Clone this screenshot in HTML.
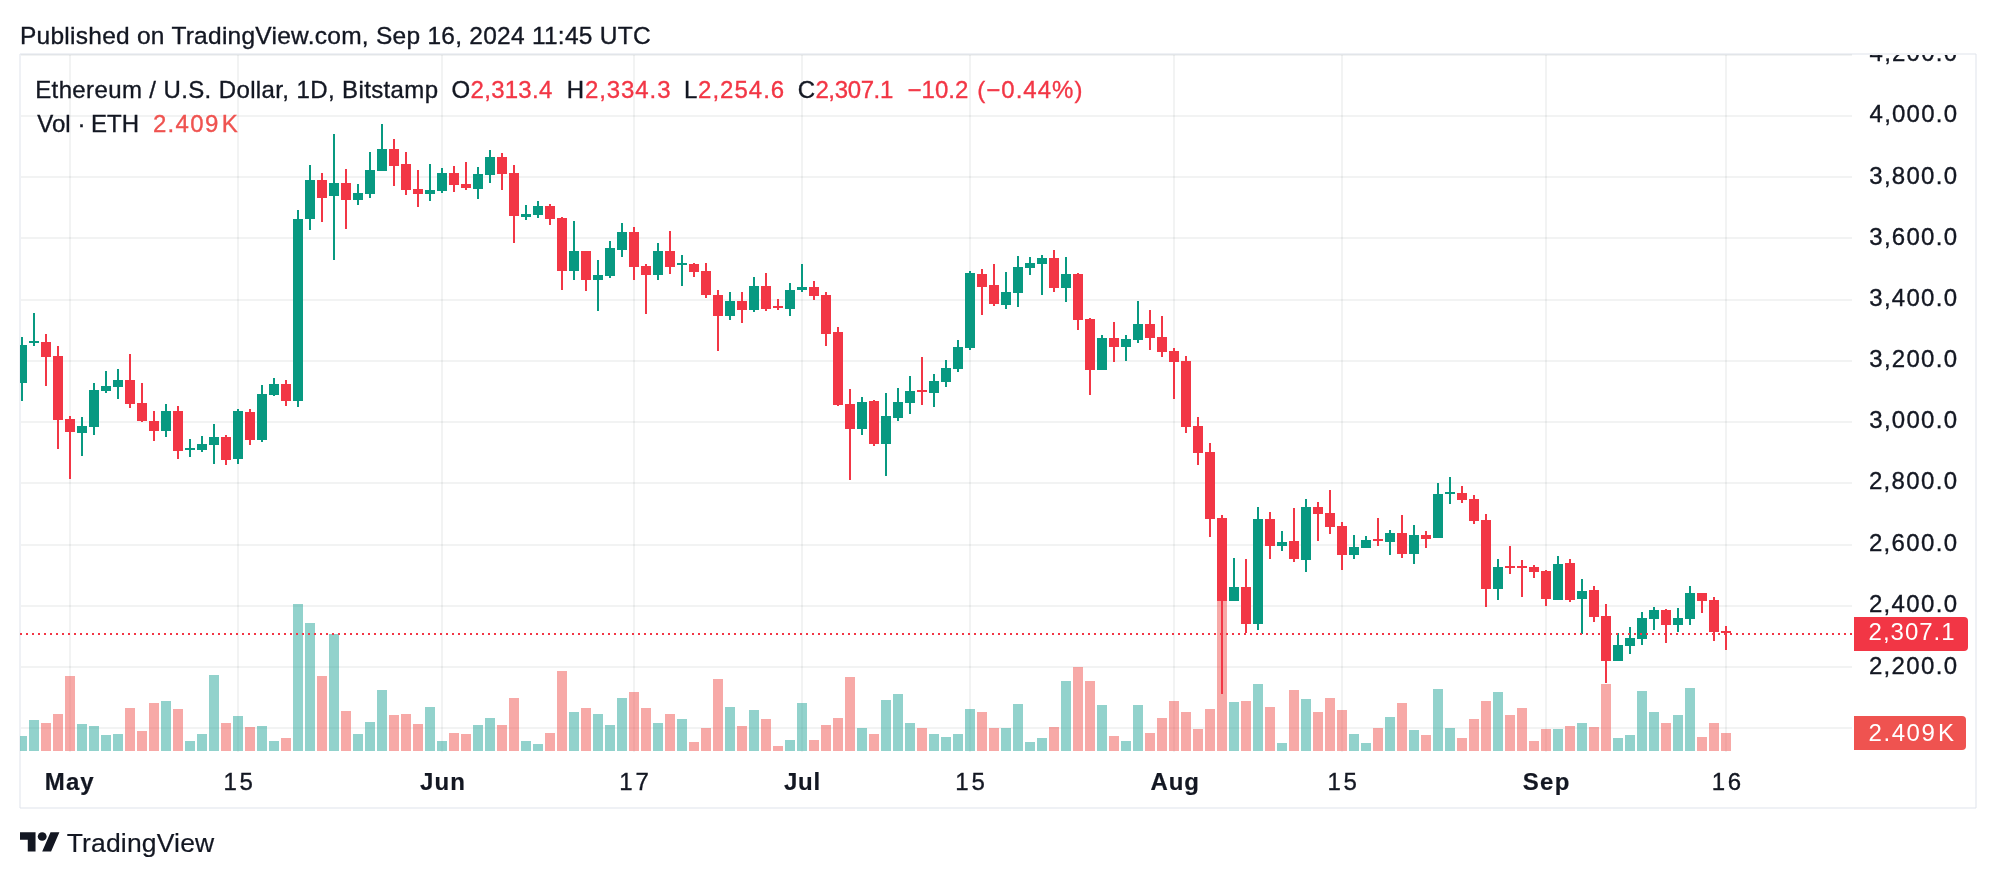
<!DOCTYPE html>
<html><head><meta charset="utf-8"><title>ETHUSD chart</title>
<style>html,body{margin:0;padding:0;background:#fff;}svg{display:block}text{font-family:"Liberation Sans",sans-serif;}</style>
</head><body>
<svg width="1996" height="878" viewBox="0 0 1996 878">
<rect x="0" y="0" width="1996" height="878" fill="#ffffff"/>
<defs><clipPath id="pane"><rect x="20" y="55" width="1832" height="697"/></clipPath><clipPath id="axis"><rect x="1853" y="55" width="122" height="752"/></clipPath></defs>
<g shape-rendering="crispEdges" fill="#e0e3eb" fill-opacity="0.5"><rect x="20" y="53" width="1956" height="2"/><rect x="20" y="807" width="1956" height="2"/><rect x="19" y="54" width="2" height="754"/><rect x="1975" y="54" width="2" height="754"/></g>
<g shape-rendering="crispEdges" fill="rgba(42,46,57,0.06)">
<rect x="69" y="55" width="2" height="697"/>
<rect x="237" y="55" width="2" height="697"/>
<rect x="441" y="55" width="2" height="697"/>
<rect x="633" y="55" width="2" height="697"/>
<rect x="801" y="55" width="2" height="697"/>
<rect x="969" y="55" width="2" height="697"/>
<rect x="1173" y="55" width="2" height="697"/>
<rect x="1341" y="55" width="2" height="697"/>
<rect x="1545" y="55" width="2" height="697"/>
<rect x="1725" y="55" width="2" height="697"/>
<rect x="21" y="54" width="1831" height="2"/>
<rect x="21" y="115" width="1831" height="2"/>
<rect x="21" y="176" width="1831" height="2"/>
<rect x="21" y="237" width="1831" height="2"/>
<rect x="21" y="299" width="1831" height="2"/>
<rect x="21" y="360" width="1831" height="2"/>
<rect x="21" y="421" width="1831" height="2"/>
<rect x="21" y="482" width="1831" height="2"/>
<rect x="21" y="544" width="1831" height="2"/>
<rect x="21" y="605" width="1831" height="2"/>
<rect x="21" y="666" width="1831" height="2"/>
<rect x="21" y="727" width="1831" height="2"/>
</g>
<g shape-rendering="crispEdges" clip-path="url(#pane)" fill-opacity="0.5">
<rect x="17" y="736" width="10" height="15" fill="#26a69a"/>
<rect x="29" y="720" width="10" height="31" fill="#26a69a"/>
<rect x="41" y="723" width="10" height="28" fill="#ef5350"/>
<rect x="53" y="714" width="10" height="37" fill="#ef5350"/>
<rect x="65" y="676" width="10" height="75" fill="#ef5350"/>
<rect x="77" y="724" width="10" height="27" fill="#26a69a"/>
<rect x="89" y="726" width="10" height="25" fill="#26a69a"/>
<rect x="101" y="735" width="10" height="16" fill="#26a69a"/>
<rect x="113" y="734" width="10" height="17" fill="#26a69a"/>
<rect x="125" y="708" width="10" height="43" fill="#ef5350"/>
<rect x="137" y="731" width="10" height="20" fill="#ef5350"/>
<rect x="149" y="703" width="10" height="48" fill="#ef5350"/>
<rect x="161" y="701" width="10" height="50" fill="#26a69a"/>
<rect x="173" y="709" width="10" height="42" fill="#ef5350"/>
<rect x="185" y="741" width="10" height="10" fill="#26a69a"/>
<rect x="197" y="734" width="10" height="17" fill="#26a69a"/>
<rect x="209" y="675" width="10" height="76" fill="#26a69a"/>
<rect x="221" y="723" width="10" height="28" fill="#ef5350"/>
<rect x="233" y="716" width="10" height="35" fill="#26a69a"/>
<rect x="245" y="727" width="10" height="24" fill="#ef5350"/>
<rect x="257" y="726" width="10" height="25" fill="#26a69a"/>
<rect x="269" y="741" width="10" height="10" fill="#26a69a"/>
<rect x="281" y="738" width="10" height="13" fill="#ef5350"/>
<rect x="293" y="604" width="10" height="147" fill="#26a69a"/>
<rect x="305" y="623" width="10" height="128" fill="#26a69a"/>
<rect x="317" y="676" width="10" height="75" fill="#ef5350"/>
<rect x="329" y="634" width="10" height="117" fill="#26a69a"/>
<rect x="341" y="711" width="10" height="40" fill="#ef5350"/>
<rect x="353" y="734" width="10" height="17" fill="#26a69a"/>
<rect x="365" y="722" width="10" height="29" fill="#26a69a"/>
<rect x="377" y="690" width="10" height="61" fill="#26a69a"/>
<rect x="389" y="715" width="10" height="36" fill="#ef5350"/>
<rect x="401" y="714" width="10" height="37" fill="#ef5350"/>
<rect x="413" y="724" width="10" height="27" fill="#ef5350"/>
<rect x="425" y="707" width="10" height="44" fill="#26a69a"/>
<rect x="437" y="741" width="10" height="10" fill="#26a69a"/>
<rect x="449" y="733" width="10" height="18" fill="#ef5350"/>
<rect x="461" y="734" width="10" height="17" fill="#ef5350"/>
<rect x="473" y="725" width="10" height="26" fill="#26a69a"/>
<rect x="485" y="718" width="10" height="33" fill="#26a69a"/>
<rect x="497" y="725" width="10" height="26" fill="#ef5350"/>
<rect x="509" y="698" width="10" height="53" fill="#ef5350"/>
<rect x="521" y="741" width="10" height="10" fill="#26a69a"/>
<rect x="533" y="744" width="10" height="7" fill="#26a69a"/>
<rect x="545" y="733" width="10" height="18" fill="#ef5350"/>
<rect x="557" y="671" width="10" height="80" fill="#ef5350"/>
<rect x="569" y="712" width="10" height="39" fill="#26a69a"/>
<rect x="581" y="708" width="10" height="43" fill="#ef5350"/>
<rect x="593" y="714" width="10" height="37" fill="#26a69a"/>
<rect x="605" y="725" width="10" height="26" fill="#26a69a"/>
<rect x="617" y="698" width="10" height="53" fill="#26a69a"/>
<rect x="629" y="692" width="10" height="59" fill="#ef5350"/>
<rect x="641" y="708" width="10" height="43" fill="#ef5350"/>
<rect x="653" y="723" width="10" height="28" fill="#26a69a"/>
<rect x="665" y="714" width="10" height="37" fill="#ef5350"/>
<rect x="677" y="719" width="10" height="32" fill="#26a69a"/>
<rect x="689" y="742" width="10" height="9" fill="#ef5350"/>
<rect x="701" y="728" width="10" height="23" fill="#ef5350"/>
<rect x="713" y="679" width="10" height="72" fill="#ef5350"/>
<rect x="725" y="707" width="10" height="44" fill="#26a69a"/>
<rect x="737" y="726" width="10" height="25" fill="#ef5350"/>
<rect x="749" y="710" width="10" height="41" fill="#26a69a"/>
<rect x="761" y="719" width="10" height="32" fill="#ef5350"/>
<rect x="773" y="746" width="10" height="5" fill="#ef5350"/>
<rect x="785" y="740" width="10" height="11" fill="#26a69a"/>
<rect x="797" y="703" width="10" height="48" fill="#26a69a"/>
<rect x="809" y="740" width="10" height="11" fill="#ef5350"/>
<rect x="821" y="725" width="10" height="26" fill="#ef5350"/>
<rect x="833" y="718" width="10" height="33" fill="#ef5350"/>
<rect x="845" y="677" width="10" height="74" fill="#ef5350"/>
<rect x="857" y="728" width="10" height="23" fill="#26a69a"/>
<rect x="869" y="734" width="10" height="17" fill="#ef5350"/>
<rect x="881" y="700" width="10" height="51" fill="#26a69a"/>
<rect x="893" y="694" width="10" height="57" fill="#26a69a"/>
<rect x="905" y="723" width="10" height="28" fill="#26a69a"/>
<rect x="917" y="728" width="10" height="23" fill="#ef5350"/>
<rect x="929" y="734" width="10" height="17" fill="#26a69a"/>
<rect x="941" y="737" width="10" height="14" fill="#26a69a"/>
<rect x="953" y="734" width="10" height="17" fill="#26a69a"/>
<rect x="965" y="709" width="10" height="42" fill="#26a69a"/>
<rect x="977" y="712" width="10" height="39" fill="#ef5350"/>
<rect x="989" y="728" width="10" height="23" fill="#ef5350"/>
<rect x="1001" y="728" width="10" height="23" fill="#26a69a"/>
<rect x="1013" y="704" width="10" height="47" fill="#26a69a"/>
<rect x="1025" y="742" width="10" height="9" fill="#26a69a"/>
<rect x="1037" y="738" width="10" height="13" fill="#26a69a"/>
<rect x="1049" y="727" width="10" height="24" fill="#ef5350"/>
<rect x="1061" y="681" width="10" height="70" fill="#26a69a"/>
<rect x="1073" y="667" width="10" height="84" fill="#ef5350"/>
<rect x="1085" y="681" width="10" height="70" fill="#ef5350"/>
<rect x="1097" y="705" width="10" height="46" fill="#26a69a"/>
<rect x="1109" y="736" width="10" height="15" fill="#ef5350"/>
<rect x="1121" y="741" width="10" height="10" fill="#26a69a"/>
<rect x="1133" y="705" width="10" height="46" fill="#26a69a"/>
<rect x="1145" y="733" width="10" height="18" fill="#ef5350"/>
<rect x="1157" y="718" width="10" height="33" fill="#ef5350"/>
<rect x="1169" y="701" width="10" height="50" fill="#ef5350"/>
<rect x="1181" y="712" width="10" height="39" fill="#ef5350"/>
<rect x="1193" y="729" width="10" height="22" fill="#ef5350"/>
<rect x="1205" y="709" width="10" height="42" fill="#ef5350"/>
<rect x="1217" y="601" width="10" height="150" fill="#ef5350"/>
<rect x="1229" y="702" width="10" height="49" fill="#26a69a"/>
<rect x="1241" y="701" width="10" height="50" fill="#ef5350"/>
<rect x="1253" y="684" width="10" height="67" fill="#26a69a"/>
<rect x="1265" y="707" width="10" height="44" fill="#ef5350"/>
<rect x="1277" y="743" width="10" height="8" fill="#26a69a"/>
<rect x="1289" y="690" width="10" height="61" fill="#ef5350"/>
<rect x="1301" y="699" width="10" height="52" fill="#26a69a"/>
<rect x="1313" y="712" width="10" height="39" fill="#ef5350"/>
<rect x="1325" y="698" width="10" height="53" fill="#ef5350"/>
<rect x="1337" y="710" width="10" height="41" fill="#ef5350"/>
<rect x="1349" y="734" width="10" height="17" fill="#26a69a"/>
<rect x="1361" y="743" width="10" height="8" fill="#26a69a"/>
<rect x="1373" y="728" width="10" height="23" fill="#ef5350"/>
<rect x="1385" y="717" width="10" height="34" fill="#26a69a"/>
<rect x="1397" y="703" width="10" height="48" fill="#ef5350"/>
<rect x="1409" y="730" width="10" height="21" fill="#26a69a"/>
<rect x="1421" y="735" width="10" height="16" fill="#ef5350"/>
<rect x="1433" y="689" width="10" height="62" fill="#26a69a"/>
<rect x="1445" y="728" width="10" height="23" fill="#26a69a"/>
<rect x="1457" y="738" width="10" height="13" fill="#ef5350"/>
<rect x="1469" y="719" width="10" height="32" fill="#ef5350"/>
<rect x="1481" y="701" width="10" height="50" fill="#ef5350"/>
<rect x="1493" y="692" width="10" height="59" fill="#26a69a"/>
<rect x="1505" y="715" width="10" height="36" fill="#ef5350"/>
<rect x="1517" y="708" width="10" height="43" fill="#ef5350"/>
<rect x="1529" y="741" width="10" height="10" fill="#ef5350"/>
<rect x="1541" y="729" width="10" height="22" fill="#ef5350"/>
<rect x="1553" y="729" width="10" height="22" fill="#26a69a"/>
<rect x="1565" y="726" width="10" height="25" fill="#ef5350"/>
<rect x="1577" y="723" width="10" height="28" fill="#26a69a"/>
<rect x="1589" y="727" width="10" height="24" fill="#ef5350"/>
<rect x="1601" y="684" width="10" height="67" fill="#ef5350"/>
<rect x="1613" y="738" width="10" height="13" fill="#26a69a"/>
<rect x="1625" y="735" width="10" height="16" fill="#26a69a"/>
<rect x="1637" y="691" width="10" height="60" fill="#26a69a"/>
<rect x="1649" y="712" width="10" height="39" fill="#26a69a"/>
<rect x="1661" y="723" width="10" height="28" fill="#ef5350"/>
<rect x="1673" y="715" width="10" height="36" fill="#26a69a"/>
<rect x="1685" y="688" width="10" height="63" fill="#26a69a"/>
<rect x="1697" y="737" width="10" height="14" fill="#ef5350"/>
<rect x="1709" y="723" width="10" height="28" fill="#ef5350"/>
<rect x="1721" y="733" width="10" height="18" fill="#ef5350"/>
</g>
<g shape-rendering="crispEdges" clip-path="url(#pane)">
<rect x="21" y="337" width="2" height="64" fill="#089981"/>
<rect x="17" y="345" width="10" height="38" fill="#089981"/>
<rect x="33" y="313" width="2" height="33" fill="#089981"/>
<rect x="29" y="341" width="10" height="2" fill="#089981"/>
<rect x="45" y="334" width="2" height="52" fill="#F23645"/>
<rect x="41" y="342" width="10" height="15" fill="#F23645"/>
<rect x="57" y="346" width="2" height="103" fill="#F23645"/>
<rect x="53" y="356" width="10" height="64" fill="#F23645"/>
<rect x="69" y="416" width="2" height="63" fill="#F23645"/>
<rect x="65" y="419" width="10" height="13" fill="#F23645"/>
<rect x="81" y="417" width="2" height="39" fill="#089981"/>
<rect x="77" y="426" width="10" height="7" fill="#089981"/>
<rect x="93" y="383" width="2" height="52" fill="#089981"/>
<rect x="89" y="390" width="10" height="37" fill="#089981"/>
<rect x="105" y="371" width="2" height="22" fill="#089981"/>
<rect x="101" y="386" width="10" height="5" fill="#089981"/>
<rect x="117" y="369" width="2" height="30" fill="#089981"/>
<rect x="113" y="380" width="10" height="7" fill="#089981"/>
<rect x="129" y="354" width="2" height="54" fill="#F23645"/>
<rect x="125" y="380" width="10" height="24" fill="#F23645"/>
<rect x="141" y="383" width="2" height="39" fill="#F23645"/>
<rect x="137" y="403" width="10" height="18" fill="#F23645"/>
<rect x="153" y="411" width="2" height="30" fill="#F23645"/>
<rect x="149" y="421" width="10" height="10" fill="#F23645"/>
<rect x="165" y="404" width="2" height="33" fill="#089981"/>
<rect x="161" y="411" width="10" height="20" fill="#089981"/>
<rect x="177" y="406" width="2" height="53" fill="#F23645"/>
<rect x="173" y="411" width="10" height="40" fill="#F23645"/>
<rect x="189" y="439" width="2" height="18" fill="#089981"/>
<rect x="185" y="448" width="10" height="2" fill="#089981"/>
<rect x="201" y="436" width="2" height="16" fill="#089981"/>
<rect x="197" y="444" width="10" height="6" fill="#089981"/>
<rect x="213" y="424" width="2" height="40" fill="#089981"/>
<rect x="209" y="437" width="10" height="8" fill="#089981"/>
<rect x="225" y="435" width="2" height="30" fill="#F23645"/>
<rect x="221" y="437" width="10" height="23" fill="#F23645"/>
<rect x="237" y="409" width="2" height="55" fill="#089981"/>
<rect x="233" y="411" width="10" height="48" fill="#089981"/>
<rect x="249" y="409" width="2" height="36" fill="#F23645"/>
<rect x="245" y="412" width="10" height="28" fill="#F23645"/>
<rect x="261" y="385" width="2" height="57" fill="#089981"/>
<rect x="257" y="394" width="10" height="46" fill="#089981"/>
<rect x="273" y="378" width="2" height="18" fill="#089981"/>
<rect x="269" y="384" width="10" height="11" fill="#089981"/>
<rect x="285" y="380" width="2" height="26" fill="#F23645"/>
<rect x="281" y="384" width="10" height="17" fill="#F23645"/>
<rect x="297" y="210" width="2" height="197" fill="#089981"/>
<rect x="293" y="219" width="10" height="182" fill="#089981"/>
<rect x="309" y="165" width="2" height="65" fill="#089981"/>
<rect x="305" y="180" width="10" height="39" fill="#089981"/>
<rect x="321" y="173" width="2" height="49" fill="#F23645"/>
<rect x="317" y="180" width="10" height="18" fill="#F23645"/>
<rect x="333" y="134" width="2" height="126" fill="#089981"/>
<rect x="329" y="183" width="10" height="13" fill="#089981"/>
<rect x="345" y="169" width="2" height="60" fill="#F23645"/>
<rect x="341" y="183" width="10" height="17" fill="#F23645"/>
<rect x="357" y="184" width="2" height="21" fill="#089981"/>
<rect x="353" y="193" width="10" height="7" fill="#089981"/>
<rect x="369" y="152" width="2" height="46" fill="#089981"/>
<rect x="365" y="170" width="10" height="24" fill="#089981"/>
<rect x="381" y="124" width="2" height="47" fill="#089981"/>
<rect x="377" y="149" width="10" height="22" fill="#089981"/>
<rect x="393" y="139" width="2" height="47" fill="#F23645"/>
<rect x="389" y="149" width="10" height="17" fill="#F23645"/>
<rect x="405" y="152" width="2" height="43" fill="#F23645"/>
<rect x="401" y="164" width="10" height="26" fill="#F23645"/>
<rect x="417" y="170" width="2" height="37" fill="#F23645"/>
<rect x="413" y="189" width="10" height="5" fill="#F23645"/>
<rect x="429" y="164" width="2" height="37" fill="#089981"/>
<rect x="425" y="190" width="10" height="4" fill="#089981"/>
<rect x="441" y="168" width="2" height="25" fill="#089981"/>
<rect x="437" y="173" width="10" height="18" fill="#089981"/>
<rect x="453" y="166" width="2" height="26" fill="#F23645"/>
<rect x="449" y="173" width="10" height="12" fill="#F23645"/>
<rect x="465" y="162" width="2" height="28" fill="#F23645"/>
<rect x="461" y="184" width="10" height="4" fill="#F23645"/>
<rect x="477" y="167" width="2" height="32" fill="#089981"/>
<rect x="473" y="174" width="10" height="15" fill="#089981"/>
<rect x="489" y="150" width="2" height="33" fill="#089981"/>
<rect x="485" y="157" width="10" height="18" fill="#089981"/>
<rect x="501" y="153" width="2" height="37" fill="#F23645"/>
<rect x="497" y="157" width="10" height="17" fill="#F23645"/>
<rect x="513" y="165" width="2" height="78" fill="#F23645"/>
<rect x="509" y="173" width="10" height="43" fill="#F23645"/>
<rect x="525" y="205" width="2" height="15" fill="#089981"/>
<rect x="521" y="214" width="10" height="3" fill="#089981"/>
<rect x="537" y="201" width="2" height="17" fill="#089981"/>
<rect x="533" y="206" width="10" height="9" fill="#089981"/>
<rect x="549" y="204" width="2" height="21" fill="#F23645"/>
<rect x="545" y="206" width="10" height="13" fill="#F23645"/>
<rect x="561" y="217" width="2" height="73" fill="#F23645"/>
<rect x="557" y="218" width="10" height="53" fill="#F23645"/>
<rect x="573" y="221" width="2" height="59" fill="#089981"/>
<rect x="569" y="251" width="10" height="20" fill="#089981"/>
<rect x="585" y="251" width="2" height="40" fill="#F23645"/>
<rect x="581" y="251" width="10" height="29" fill="#F23645"/>
<rect x="597" y="260" width="2" height="51" fill="#089981"/>
<rect x="593" y="275" width="10" height="5" fill="#089981"/>
<rect x="609" y="241" width="2" height="37" fill="#089981"/>
<rect x="605" y="248" width="10" height="28" fill="#089981"/>
<rect x="621" y="223" width="2" height="34" fill="#089981"/>
<rect x="617" y="232" width="10" height="18" fill="#089981"/>
<rect x="633" y="227" width="2" height="53" fill="#F23645"/>
<rect x="629" y="232" width="10" height="35" fill="#F23645"/>
<rect x="645" y="264" width="2" height="50" fill="#F23645"/>
<rect x="641" y="266" width="10" height="9" fill="#F23645"/>
<rect x="657" y="243" width="2" height="37" fill="#089981"/>
<rect x="653" y="251" width="10" height="24" fill="#089981"/>
<rect x="669" y="231" width="2" height="43" fill="#F23645"/>
<rect x="665" y="251" width="10" height="16" fill="#F23645"/>
<rect x="681" y="255" width="2" height="31" fill="#089981"/>
<rect x="677" y="263" width="10" height="2" fill="#089981"/>
<rect x="693" y="263" width="2" height="14" fill="#F23645"/>
<rect x="689" y="264" width="10" height="8" fill="#F23645"/>
<rect x="705" y="263" width="2" height="35" fill="#F23645"/>
<rect x="701" y="271" width="10" height="24" fill="#F23645"/>
<rect x="717" y="290" width="2" height="61" fill="#F23645"/>
<rect x="713" y="295" width="10" height="21" fill="#F23645"/>
<rect x="729" y="292" width="2" height="28" fill="#089981"/>
<rect x="725" y="301" width="10" height="15" fill="#089981"/>
<rect x="741" y="292" width="2" height="31" fill="#F23645"/>
<rect x="737" y="301" width="10" height="9" fill="#F23645"/>
<rect x="753" y="277" width="2" height="35" fill="#089981"/>
<rect x="749" y="286" width="10" height="24" fill="#089981"/>
<rect x="765" y="273" width="2" height="38" fill="#F23645"/>
<rect x="761" y="286" width="10" height="23" fill="#F23645"/>
<rect x="777" y="299" width="2" height="11" fill="#F23645"/>
<rect x="773" y="306" width="10" height="2" fill="#F23645"/>
<rect x="789" y="283" width="2" height="33" fill="#089981"/>
<rect x="785" y="290" width="10" height="19" fill="#089981"/>
<rect x="801" y="264" width="2" height="28" fill="#089981"/>
<rect x="797" y="287" width="10" height="3" fill="#089981"/>
<rect x="813" y="281" width="2" height="19" fill="#F23645"/>
<rect x="809" y="287" width="10" height="9" fill="#F23645"/>
<rect x="825" y="292" width="2" height="54" fill="#F23645"/>
<rect x="821" y="295" width="10" height="39" fill="#F23645"/>
<rect x="837" y="327" width="2" height="79" fill="#F23645"/>
<rect x="833" y="332" width="10" height="73" fill="#F23645"/>
<rect x="849" y="389" width="2" height="91" fill="#F23645"/>
<rect x="845" y="404" width="10" height="25" fill="#F23645"/>
<rect x="861" y="397" width="2" height="38" fill="#089981"/>
<rect x="857" y="402" width="10" height="27" fill="#089981"/>
<rect x="873" y="400" width="2" height="46" fill="#F23645"/>
<rect x="869" y="401" width="10" height="43" fill="#F23645"/>
<rect x="885" y="393" width="2" height="83" fill="#089981"/>
<rect x="881" y="416" width="10" height="28" fill="#089981"/>
<rect x="897" y="388" width="2" height="33" fill="#089981"/>
<rect x="893" y="402" width="10" height="16" fill="#089981"/>
<rect x="909" y="376" width="2" height="38" fill="#089981"/>
<rect x="905" y="391" width="10" height="12" fill="#089981"/>
<rect x="921" y="357" width="2" height="48" fill="#F23645"/>
<rect x="917" y="390" width="10" height="2" fill="#F23645"/>
<rect x="933" y="374" width="2" height="33" fill="#089981"/>
<rect x="929" y="381" width="10" height="12" fill="#089981"/>
<rect x="945" y="360" width="2" height="27" fill="#089981"/>
<rect x="941" y="368" width="10" height="14" fill="#089981"/>
<rect x="957" y="340" width="2" height="32" fill="#089981"/>
<rect x="953" y="347" width="10" height="22" fill="#089981"/>
<rect x="969" y="271" width="2" height="79" fill="#089981"/>
<rect x="965" y="273" width="10" height="75" fill="#089981"/>
<rect x="981" y="269" width="2" height="46" fill="#F23645"/>
<rect x="977" y="274" width="10" height="13" fill="#F23645"/>
<rect x="993" y="264" width="2" height="42" fill="#F23645"/>
<rect x="989" y="285" width="10" height="19" fill="#F23645"/>
<rect x="1005" y="272" width="2" height="37" fill="#089981"/>
<rect x="1001" y="292" width="10" height="13" fill="#089981"/>
<rect x="1017" y="256" width="2" height="51" fill="#089981"/>
<rect x="1013" y="267" width="10" height="26" fill="#089981"/>
<rect x="1029" y="257" width="2" height="18" fill="#089981"/>
<rect x="1025" y="263" width="10" height="5" fill="#089981"/>
<rect x="1041" y="255" width="2" height="40" fill="#089981"/>
<rect x="1037" y="258" width="10" height="6" fill="#089981"/>
<rect x="1053" y="250" width="2" height="42" fill="#F23645"/>
<rect x="1049" y="258" width="10" height="30" fill="#F23645"/>
<rect x="1065" y="257" width="2" height="45" fill="#089981"/>
<rect x="1061" y="274" width="10" height="14" fill="#089981"/>
<rect x="1077" y="273" width="2" height="57" fill="#F23645"/>
<rect x="1073" y="274" width="10" height="46" fill="#F23645"/>
<rect x="1089" y="318" width="2" height="77" fill="#F23645"/>
<rect x="1085" y="319" width="10" height="51" fill="#F23645"/>
<rect x="1101" y="335" width="2" height="35" fill="#089981"/>
<rect x="1097" y="338" width="10" height="32" fill="#089981"/>
<rect x="1113" y="322" width="2" height="40" fill="#F23645"/>
<rect x="1109" y="338" width="10" height="9" fill="#F23645"/>
<rect x="1125" y="335" width="2" height="26" fill="#089981"/>
<rect x="1121" y="339" width="10" height="8" fill="#089981"/>
<rect x="1137" y="301" width="2" height="42" fill="#089981"/>
<rect x="1133" y="324" width="10" height="16" fill="#089981"/>
<rect x="1149" y="310" width="2" height="40" fill="#F23645"/>
<rect x="1145" y="324" width="10" height="14" fill="#F23645"/>
<rect x="1161" y="316" width="2" height="41" fill="#F23645"/>
<rect x="1157" y="337" width="10" height="15" fill="#F23645"/>
<rect x="1173" y="348" width="2" height="51" fill="#F23645"/>
<rect x="1169" y="351" width="10" height="11" fill="#F23645"/>
<rect x="1185" y="356" width="2" height="77" fill="#F23645"/>
<rect x="1181" y="361" width="10" height="66" fill="#F23645"/>
<rect x="1197" y="417" width="2" height="48" fill="#F23645"/>
<rect x="1193" y="426" width="10" height="27" fill="#F23645"/>
<rect x="1209" y="443" width="2" height="94" fill="#F23645"/>
<rect x="1205" y="452" width="10" height="67" fill="#F23645"/>
<rect x="1221" y="515" width="2" height="179" fill="#F23645"/>
<rect x="1217" y="518" width="10" height="83" fill="#F23645"/>
<rect x="1233" y="558" width="2" height="43" fill="#089981"/>
<rect x="1229" y="587" width="10" height="14" fill="#089981"/>
<rect x="1245" y="559" width="2" height="74" fill="#F23645"/>
<rect x="1241" y="587" width="10" height="37" fill="#F23645"/>
<rect x="1257" y="507" width="2" height="123" fill="#089981"/>
<rect x="1253" y="519" width="10" height="105" fill="#089981"/>
<rect x="1269" y="512" width="2" height="47" fill="#F23645"/>
<rect x="1265" y="519" width="10" height="27" fill="#F23645"/>
<rect x="1281" y="531" width="2" height="20" fill="#089981"/>
<rect x="1277" y="542" width="10" height="4" fill="#089981"/>
<rect x="1293" y="508" width="2" height="54" fill="#F23645"/>
<rect x="1289" y="541" width="10" height="18" fill="#F23645"/>
<rect x="1305" y="499" width="2" height="73" fill="#089981"/>
<rect x="1301" y="507" width="10" height="53" fill="#089981"/>
<rect x="1317" y="502" width="2" height="39" fill="#F23645"/>
<rect x="1313" y="507" width="10" height="7" fill="#F23645"/>
<rect x="1329" y="490" width="2" height="44" fill="#F23645"/>
<rect x="1325" y="513" width="10" height="14" fill="#F23645"/>
<rect x="1341" y="522" width="2" height="48" fill="#F23645"/>
<rect x="1337" y="526" width="10" height="29" fill="#F23645"/>
<rect x="1353" y="535" width="2" height="24" fill="#089981"/>
<rect x="1349" y="547" width="10" height="8" fill="#089981"/>
<rect x="1365" y="536" width="2" height="12" fill="#089981"/>
<rect x="1361" y="540" width="10" height="8" fill="#089981"/>
<rect x="1377" y="518" width="2" height="28" fill="#F23645"/>
<rect x="1373" y="539" width="10" height="2" fill="#F23645"/>
<rect x="1389" y="530" width="2" height="25" fill="#089981"/>
<rect x="1385" y="533" width="10" height="9" fill="#089981"/>
<rect x="1401" y="515" width="2" height="43" fill="#F23645"/>
<rect x="1397" y="533" width="10" height="21" fill="#F23645"/>
<rect x="1413" y="525" width="2" height="39" fill="#089981"/>
<rect x="1409" y="535" width="10" height="19" fill="#089981"/>
<rect x="1425" y="531" width="2" height="17" fill="#F23645"/>
<rect x="1421" y="535" width="10" height="4" fill="#F23645"/>
<rect x="1437" y="483" width="2" height="55" fill="#089981"/>
<rect x="1433" y="494" width="10" height="44" fill="#089981"/>
<rect x="1449" y="477" width="2" height="27" fill="#089981"/>
<rect x="1445" y="492" width="10" height="2" fill="#089981"/>
<rect x="1461" y="486" width="2" height="17" fill="#F23645"/>
<rect x="1457" y="493" width="10" height="7" fill="#F23645"/>
<rect x="1473" y="495" width="2" height="29" fill="#F23645"/>
<rect x="1469" y="499" width="10" height="22" fill="#F23645"/>
<rect x="1485" y="514" width="2" height="93" fill="#F23645"/>
<rect x="1481" y="520" width="10" height="69" fill="#F23645"/>
<rect x="1497" y="559" width="2" height="41" fill="#089981"/>
<rect x="1493" y="567" width="10" height="22" fill="#089981"/>
<rect x="1509" y="546" width="2" height="28" fill="#F23645"/>
<rect x="1505" y="566" width="10" height="2" fill="#F23645"/>
<rect x="1521" y="560" width="2" height="37" fill="#F23645"/>
<rect x="1517" y="566" width="10" height="2" fill="#F23645"/>
<rect x="1533" y="565" width="2" height="13" fill="#F23645"/>
<rect x="1529" y="567" width="10" height="5" fill="#F23645"/>
<rect x="1545" y="570" width="2" height="36" fill="#F23645"/>
<rect x="1541" y="571" width="10" height="28" fill="#F23645"/>
<rect x="1557" y="556" width="2" height="44" fill="#089981"/>
<rect x="1553" y="564" width="10" height="36" fill="#089981"/>
<rect x="1569" y="559" width="2" height="43" fill="#F23645"/>
<rect x="1565" y="563" width="10" height="37" fill="#F23645"/>
<rect x="1581" y="579" width="2" height="55" fill="#089981"/>
<rect x="1577" y="591" width="10" height="8" fill="#089981"/>
<rect x="1593" y="586" width="2" height="36" fill="#F23645"/>
<rect x="1589" y="590" width="10" height="27" fill="#F23645"/>
<rect x="1605" y="604" width="2" height="79" fill="#F23645"/>
<rect x="1601" y="616" width="10" height="45" fill="#F23645"/>
<rect x="1617" y="633" width="2" height="28" fill="#089981"/>
<rect x="1613" y="645" width="10" height="16" fill="#089981"/>
<rect x="1629" y="627" width="2" height="27" fill="#089981"/>
<rect x="1625" y="638" width="10" height="8" fill="#089981"/>
<rect x="1641" y="612" width="2" height="33" fill="#089981"/>
<rect x="1637" y="618" width="10" height="21" fill="#089981"/>
<rect x="1653" y="607" width="2" height="23" fill="#089981"/>
<rect x="1649" y="610" width="10" height="9" fill="#089981"/>
<rect x="1665" y="609" width="2" height="34" fill="#F23645"/>
<rect x="1661" y="610" width="10" height="15" fill="#F23645"/>
<rect x="1677" y="608" width="2" height="24" fill="#089981"/>
<rect x="1673" y="618" width="10" height="7" fill="#089981"/>
<rect x="1689" y="586" width="2" height="39" fill="#089981"/>
<rect x="1685" y="593" width="10" height="26" fill="#089981"/>
<rect x="1701" y="593" width="2" height="20" fill="#F23645"/>
<rect x="1697" y="593" width="10" height="8" fill="#F23645"/>
<rect x="1713" y="597" width="2" height="44" fill="#F23645"/>
<rect x="1709" y="600" width="10" height="32" fill="#F23645"/>
<rect x="1725" y="626" width="2" height="24" fill="#F23645"/>
<rect x="1721" y="631" width="10" height="2" fill="#F23645"/>
</g>
<path shape-rendering="crispEdges" fill="#F23645" d="M20 633h2v2h-2zM26 633h2v2h-2zM32 633h2v2h-2zM38 633h2v2h-2zM44 633h2v2h-2zM50 633h2v2h-2zM56 633h2v2h-2zM62 633h2v2h-2zM68 633h2v2h-2zM74 633h2v2h-2zM80 633h2v2h-2zM86 633h2v2h-2zM92 633h2v2h-2zM98 633h2v2h-2zM104 633h2v2h-2zM110 633h2v2h-2zM116 633h2v2h-2zM122 633h2v2h-2zM128 633h2v2h-2zM134 633h2v2h-2zM140 633h2v2h-2zM146 633h2v2h-2zM152 633h2v2h-2zM158 633h2v2h-2zM164 633h2v2h-2zM170 633h2v2h-2zM176 633h2v2h-2zM182 633h2v2h-2zM188 633h2v2h-2zM194 633h2v2h-2zM200 633h2v2h-2zM206 633h2v2h-2zM212 633h2v2h-2zM218 633h2v2h-2zM224 633h2v2h-2zM230 633h2v2h-2zM236 633h2v2h-2zM242 633h2v2h-2zM248 633h2v2h-2zM254 633h2v2h-2zM260 633h2v2h-2zM266 633h2v2h-2zM272 633h2v2h-2zM278 633h2v2h-2zM284 633h2v2h-2zM290 633h2v2h-2zM296 633h2v2h-2zM302 633h2v2h-2zM308 633h2v2h-2zM314 633h2v2h-2zM320 633h2v2h-2zM326 633h2v2h-2zM332 633h2v2h-2zM338 633h2v2h-2zM344 633h2v2h-2zM350 633h2v2h-2zM356 633h2v2h-2zM362 633h2v2h-2zM368 633h2v2h-2zM374 633h2v2h-2zM380 633h2v2h-2zM386 633h2v2h-2zM392 633h2v2h-2zM398 633h2v2h-2zM404 633h2v2h-2zM410 633h2v2h-2zM416 633h2v2h-2zM422 633h2v2h-2zM428 633h2v2h-2zM434 633h2v2h-2zM440 633h2v2h-2zM446 633h2v2h-2zM452 633h2v2h-2zM458 633h2v2h-2zM464 633h2v2h-2zM470 633h2v2h-2zM476 633h2v2h-2zM482 633h2v2h-2zM488 633h2v2h-2zM494 633h2v2h-2zM500 633h2v2h-2zM506 633h2v2h-2zM512 633h2v2h-2zM518 633h2v2h-2zM524 633h2v2h-2zM530 633h2v2h-2zM536 633h2v2h-2zM542 633h2v2h-2zM548 633h2v2h-2zM554 633h2v2h-2zM560 633h2v2h-2zM566 633h2v2h-2zM572 633h2v2h-2zM578 633h2v2h-2zM584 633h2v2h-2zM590 633h2v2h-2zM596 633h2v2h-2zM602 633h2v2h-2zM608 633h2v2h-2zM614 633h2v2h-2zM620 633h2v2h-2zM626 633h2v2h-2zM632 633h2v2h-2zM638 633h2v2h-2zM644 633h2v2h-2zM650 633h2v2h-2zM656 633h2v2h-2zM662 633h2v2h-2zM668 633h2v2h-2zM674 633h2v2h-2zM680 633h2v2h-2zM686 633h2v2h-2zM692 633h2v2h-2zM698 633h2v2h-2zM704 633h2v2h-2zM710 633h2v2h-2zM716 633h2v2h-2zM722 633h2v2h-2zM728 633h2v2h-2zM734 633h2v2h-2zM740 633h2v2h-2zM746 633h2v2h-2zM752 633h2v2h-2zM758 633h2v2h-2zM764 633h2v2h-2zM770 633h2v2h-2zM776 633h2v2h-2zM782 633h2v2h-2zM788 633h2v2h-2zM794 633h2v2h-2zM800 633h2v2h-2zM806 633h2v2h-2zM812 633h2v2h-2zM818 633h2v2h-2zM824 633h2v2h-2zM830 633h2v2h-2zM836 633h2v2h-2zM842 633h2v2h-2zM848 633h2v2h-2zM854 633h2v2h-2zM860 633h2v2h-2zM866 633h2v2h-2zM872 633h2v2h-2zM878 633h2v2h-2zM884 633h2v2h-2zM890 633h2v2h-2zM896 633h2v2h-2zM902 633h2v2h-2zM908 633h2v2h-2zM914 633h2v2h-2zM920 633h2v2h-2zM926 633h2v2h-2zM932 633h2v2h-2zM938 633h2v2h-2zM944 633h2v2h-2zM950 633h2v2h-2zM956 633h2v2h-2zM962 633h2v2h-2zM968 633h2v2h-2zM974 633h2v2h-2zM980 633h2v2h-2zM986 633h2v2h-2zM992 633h2v2h-2zM998 633h2v2h-2zM1004 633h2v2h-2zM1010 633h2v2h-2zM1016 633h2v2h-2zM1022 633h2v2h-2zM1028 633h2v2h-2zM1034 633h2v2h-2zM1040 633h2v2h-2zM1046 633h2v2h-2zM1052 633h2v2h-2zM1058 633h2v2h-2zM1064 633h2v2h-2zM1070 633h2v2h-2zM1076 633h2v2h-2zM1082 633h2v2h-2zM1088 633h2v2h-2zM1094 633h2v2h-2zM1100 633h2v2h-2zM1106 633h2v2h-2zM1112 633h2v2h-2zM1118 633h2v2h-2zM1124 633h2v2h-2zM1130 633h2v2h-2zM1136 633h2v2h-2zM1142 633h2v2h-2zM1148 633h2v2h-2zM1154 633h2v2h-2zM1160 633h2v2h-2zM1166 633h2v2h-2zM1172 633h2v2h-2zM1178 633h2v2h-2zM1184 633h2v2h-2zM1190 633h2v2h-2zM1196 633h2v2h-2zM1202 633h2v2h-2zM1208 633h2v2h-2zM1214 633h2v2h-2zM1220 633h2v2h-2zM1226 633h2v2h-2zM1232 633h2v2h-2zM1238 633h2v2h-2zM1244 633h2v2h-2zM1250 633h2v2h-2zM1256 633h2v2h-2zM1262 633h2v2h-2zM1268 633h2v2h-2zM1274 633h2v2h-2zM1280 633h2v2h-2zM1286 633h2v2h-2zM1292 633h2v2h-2zM1298 633h2v2h-2zM1304 633h2v2h-2zM1310 633h2v2h-2zM1316 633h2v2h-2zM1322 633h2v2h-2zM1328 633h2v2h-2zM1334 633h2v2h-2zM1340 633h2v2h-2zM1346 633h2v2h-2zM1352 633h2v2h-2zM1358 633h2v2h-2zM1364 633h2v2h-2zM1370 633h2v2h-2zM1376 633h2v2h-2zM1382 633h2v2h-2zM1388 633h2v2h-2zM1394 633h2v2h-2zM1400 633h2v2h-2zM1406 633h2v2h-2zM1412 633h2v2h-2zM1418 633h2v2h-2zM1424 633h2v2h-2zM1430 633h2v2h-2zM1436 633h2v2h-2zM1442 633h2v2h-2zM1448 633h2v2h-2zM1454 633h2v2h-2zM1460 633h2v2h-2zM1466 633h2v2h-2zM1472 633h2v2h-2zM1478 633h2v2h-2zM1484 633h2v2h-2zM1490 633h2v2h-2zM1496 633h2v2h-2zM1502 633h2v2h-2zM1508 633h2v2h-2zM1514 633h2v2h-2zM1520 633h2v2h-2zM1526 633h2v2h-2zM1532 633h2v2h-2zM1538 633h2v2h-2zM1544 633h2v2h-2zM1550 633h2v2h-2zM1556 633h2v2h-2zM1562 633h2v2h-2zM1568 633h2v2h-2zM1574 633h2v2h-2zM1580 633h2v2h-2zM1586 633h2v2h-2zM1592 633h2v2h-2zM1598 633h2v2h-2zM1604 633h2v2h-2zM1610 633h2v2h-2zM1616 633h2v2h-2zM1622 633h2v2h-2zM1628 633h2v2h-2zM1634 633h2v2h-2zM1640 633h2v2h-2zM1646 633h2v2h-2zM1652 633h2v2h-2zM1658 633h2v2h-2zM1664 633h2v2h-2zM1670 633h2v2h-2zM1676 633h2v2h-2zM1682 633h2v2h-2zM1688 633h2v2h-2zM1694 633h2v2h-2zM1700 633h2v2h-2zM1706 633h2v2h-2zM1712 633h2v2h-2zM1718 633h2v2h-2zM1724 633h2v2h-2zM1730 633h2v2h-2zM1736 633h2v2h-2zM1742 633h2v2h-2zM1748 633h2v2h-2zM1754 633h2v2h-2zM1760 633h2v2h-2zM1766 633h2v2h-2zM1772 633h2v2h-2zM1778 633h2v2h-2zM1784 633h2v2h-2zM1790 633h2v2h-2zM1796 633h2v2h-2zM1802 633h2v2h-2zM1808 633h2v2h-2zM1814 633h2v2h-2zM1820 633h2v2h-2zM1826 633h2v2h-2zM1832 633h2v2h-2zM1838 633h2v2h-2zM1844 633h2v2h-2zM1850 633h2v2h-2z"/>
<g opacity="0.999">
<g clip-path="url(#axis)">
<text x="1869.62" y="61.2" font-size="24" fill="#131722" letter-spacing="1.216" stroke="#131722" stroke-width="0.35" xml:space="preserve">4,200.0</text>
<text x="1869.62" y="122.2" font-size="24" fill="#131722" letter-spacing="1.216" stroke="#131722" stroke-width="0.35" xml:space="preserve">4,000.0</text>
<text x="1869.25" y="183.6" font-size="24" fill="#131722" letter-spacing="1.279" stroke="#131722" stroke-width="0.35" xml:space="preserve">3,800.0</text>
<text x="1869.25" y="244.8" font-size="24" fill="#131722" letter-spacing="1.279" stroke="#131722" stroke-width="0.35" xml:space="preserve">3,600.0</text>
<text x="1869.25" y="305.8" font-size="24" fill="#131722" letter-spacing="1.279" stroke="#131722" stroke-width="0.35" xml:space="preserve">3,400.0</text>
<text x="1869.25" y="367.0" font-size="24" fill="#131722" letter-spacing="1.279" stroke="#131722" stroke-width="0.35" xml:space="preserve">3,200.0</text>
<text x="1869.25" y="428.2" font-size="24" fill="#131722" letter-spacing="1.279" stroke="#131722" stroke-width="0.35" xml:space="preserve">3,000.0</text>
<text x="1868.88" y="489.4" font-size="24" fill="#131722" letter-spacing="1.341" stroke="#131722" stroke-width="0.35" xml:space="preserve">2,800.0</text>
<text x="1868.88" y="550.8" font-size="24" fill="#131722" letter-spacing="1.341" stroke="#131722" stroke-width="0.35" xml:space="preserve">2,600.0</text>
<text x="1868.88" y="612.0" font-size="24" fill="#131722" letter-spacing="1.341" stroke="#131722" stroke-width="0.35" xml:space="preserve">2,400.0</text>
<text x="1868.88" y="673.8" font-size="24" fill="#131722" letter-spacing="1.341" stroke="#131722" stroke-width="0.35" xml:space="preserve">2,200.0</text>
</g>
<path d="M1854 617h110a4 4 0 0 1 4 4v26a4 4 0 0 1 -4 4h-110z" fill="#F23645"/>
<path d="M1854 716h108a4 4 0 0 1 4 4v26a4 4 0 0 1 -4 4h-108z" fill="#ef5350"/>
<text x="19.99" y="43.9" font-size="24.5" fill="#131722" letter-spacing="0.259" stroke="#131722" stroke-width="0.35" xml:space="preserve">Published on TradingView.com, Sep 16, 2024 11:45 UTC</text>
<text x="35.20" y="98.0" font-size="24" fill="#131722" letter-spacing="0.383" stroke="#131722" stroke-width="0.35" xml:space="preserve">Ethereum / U.S. Dollar, 1D, Bitstamp</text>
<text x="451.43" y="98.0" font-size="24" fill="#131722" stroke="#131722" stroke-width="0.35" xml:space="preserve">O</text>
<text x="470.57" y="98.0" font-size="24" fill="#F23645" letter-spacing="0.275" stroke="#F23645" stroke-width="0.35" xml:space="preserve">2,313.4</text>
<text x="566.72" y="98.0" font-size="24" fill="#131722" stroke="#131722" stroke-width="0.35" xml:space="preserve">H</text>
<text x="584.88" y="98.0" font-size="24" fill="#F23645" letter-spacing="0.921" stroke="#F23645" stroke-width="0.35" xml:space="preserve">2,334.3</text>
<text x="684.09" y="98.0" font-size="24" fill="#131722" stroke="#131722" stroke-width="0.35" xml:space="preserve">L</text>
<text x="698.08" y="98.0" font-size="24" fill="#F23645" letter-spacing="1.004" stroke="#F23645" stroke-width="0.35" xml:space="preserve">2,254.6</text>
<text x="797.79" y="98.0" font-size="24" fill="#131722" stroke="#131722" stroke-width="0.35" xml:space="preserve">C</text>
<text x="815.38" y="98.0" font-size="24" fill="#F23645" letter-spacing="-0.363" stroke="#F23645" stroke-width="0.35" xml:space="preserve">2,307.1</text>
<text x="907.58" y="98.0" font-size="24" fill="#F23645" letter-spacing="0.018" stroke="#F23645" stroke-width="0.35" xml:space="preserve">−10.2</text>
<text x="977.27" y="98.0" font-size="24" fill="#F23645" letter-spacing="1.017" stroke="#F23645" stroke-width="0.35" xml:space="preserve">(−0.44%)</text>
<text x="37.20" y="131.9" font-size="24" fill="#131722" letter-spacing="0.059" stroke="#131722" stroke-width="0.35" xml:space="preserve">Vol</text>
<text x="77.61" y="131.9" font-size="24" fill="#131722" stroke="#131722" stroke-width="0.35" xml:space="preserve">·</text>
<text x="91.12" y="131.9" font-size="24" fill="#131722" letter-spacing="-0.034" stroke="#131722" stroke-width="0.35" xml:space="preserve">ETH</text>
<text x="152.88" y="131.9" font-size="24" fill="#ef5350" letter-spacing="1.360" stroke="#ef5350" stroke-width="0.35" xml:space="preserve">2.409</text>
<text x="221.79" y="131.9" font-size="24" fill="#ef5350" stroke="#ef5350" stroke-width="0.35" xml:space="preserve">K</text>
<text x="1868.58" y="640.2" font-size="24" fill="#ffffff" letter-spacing="0.987" xml:space="preserve">2,307.1</text>
<text x="1868.58" y="741" font-size="24" fill="#ffffff" letter-spacing="1.535" xml:space="preserve">2.409</text>
<text x="1938.09" y="741" font-size="24" fill="#ffffff" xml:space="preserve">K</text>
<text x="44.85" y="790" font-size="24" fill="#131722" font-weight="700" letter-spacing="1.080" stroke="#131722" stroke-width="0.2" xml:space="preserve">May</text>
<text x="223.60" y="790" font-size="24" fill="#131722" letter-spacing="2.577" stroke="#131722" stroke-width="0.35" xml:space="preserve">15</text>
<text x="420.10" y="790" font-size="24" fill="#131722" font-weight="700" letter-spacing="1.046" stroke="#131722" stroke-width="0.2" xml:space="preserve">Jun</text>
<text x="619.35" y="790" font-size="24" fill="#131722" letter-spacing="2.877" stroke="#131722" stroke-width="0.35" xml:space="preserve">17</text>
<text x="784.10" y="790" font-size="24" fill="#131722" font-weight="700" letter-spacing="0.671" stroke="#131722" stroke-width="0.2" xml:space="preserve">Jul</text>
<text x="955.30" y="790" font-size="24" fill="#131722" letter-spacing="2.777" stroke="#131722" stroke-width="0.35" xml:space="preserve">15</text>
<text x="1150.53" y="790" font-size="24" fill="#131722" font-weight="700" letter-spacing="0.929" stroke="#131722" stroke-width="0.2" xml:space="preserve">Aug</text>
<text x="1327.40" y="790" font-size="24" fill="#131722" letter-spacing="2.777" stroke="#131722" stroke-width="0.35" xml:space="preserve">15</text>
<text x="1522.68" y="790" font-size="24" fill="#131722" font-weight="700" letter-spacing="1.422" stroke="#131722" stroke-width="0.2" xml:space="preserve">Sep</text>
<text x="1711.70" y="790" font-size="24" fill="#131722" letter-spacing="2.777" stroke="#131722" stroke-width="0.35" xml:space="preserve">16</text>
<g transform="translate(20,827.9) scale(1.11,1.075)" fill="#131722"><path d="M14 22H7V11H0V4h14v18zM28 22h-8l7.5-18h8L28 22z"/><circle cx="20" cy="8" r="4"/></g>
<text x="66.69" y="851.6" font-size="26.5" fill="#131722" letter-spacing="0.166" stroke="#131722" stroke-width="0.2" xml:space="preserve">TradingView</text>
</g>
</svg></body></html>
